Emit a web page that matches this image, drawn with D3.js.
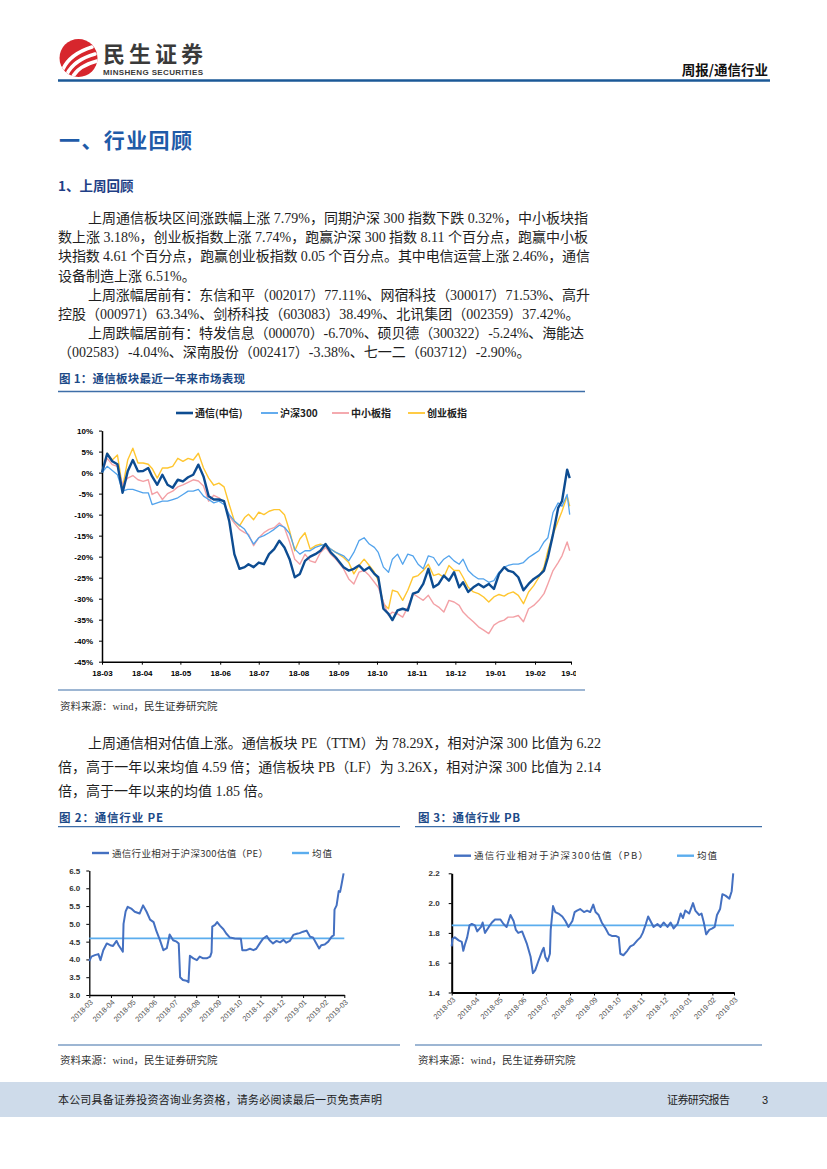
<!DOCTYPE html>
<html>
<head>
<meta charset="utf-8">
<script src="https://cdn.jsdelivr.net/npm/d3@7"></script>
<style>
  html, body { margin: 0; padding: 0; background: #fff; }
  svg { display: block; }
</style>
</head>
<body>
<svg id="page" width="827" height="1169"></svg>
<script>
// ── 数据 ─────────────────────────────────────────────
// 图1：通信板块最近一年来市场表现（%）
const perfDates = [
  "2018-03-01","2018-03-05","2018-03-09","2018-03-13","2018-03-17","2018-03-21","2018-03-25","2018-03-29",
  "2018-04-02","2018-04-06","2018-04-09","2018-04-13","2018-04-17","2018-04-21","2018-04-25","2018-04-29",
  "2018-05-03","2018-05-07","2018-05-11","2018-05-15","2018-05-19","2018-05-23","2018-05-27","2018-05-31",
  "2018-06-04","2018-06-08","2018-06-12","2018-06-16","2018-06-20","2018-06-23","2018-06-27",
  "2018-07-01","2018-07-05","2018-07-09","2018-07-13","2018-07-17","2018-07-21","2018-07-25","2018-07-29",
  "2018-08-02","2018-08-06","2018-08-10","2018-08-14","2018-08-18","2018-08-22","2018-08-26","2018-08-30",
  "2018-09-05","2018-09-09","2018-09-13","2018-09-17","2018-09-21","2018-09-25","2018-09-29",
  "2018-10-02","2018-10-06","2018-10-10","2018-10-13","2018-10-17","2018-10-21","2018-10-25","2018-10-29",
  "2018-11-02","2018-11-06","2018-11-10","2018-11-14","2018-11-18","2018-11-22","2018-11-26","2018-11-30",
  "2018-12-04","2018-12-07","2018-12-11","2018-12-15","2018-12-19","2018-12-23","2018-12-27","2018-12-31",
  "2019-01-04","2019-01-08","2019-01-11","2019-01-15","2019-01-19","2019-01-23","2019-01-27","2019-01-31",
  "2019-02-04","2019-02-08","2019-02-11","2019-02-15","2019-02-19","2019-02-22","2019-02-26","2019-02-28"
];
const tongxinVals = [
  0, 4.5, 2.7, 2.0, -4.8, 0.3, 3.0, 0.3, 0.4, 1.1, -0.9, -2.9, -0.5, -2.9, -3.6, -1.7,
  -2.1, -1.1, -0.5, 1.9, -0.9, -5.6, -6.4, -6.4, -6.8, -11.5, -19.4, -22.9, -22.5, -21.8, -22.5,
  -21.4, -21.8, -19.4, -18.2, -16.2, -17.8, -20.6, -24.9, -24.1, -21.0, -20.0, -19.4, -18.6, -17.0, -19.0, -20.2,
  -22.5, -23.3, -22.9, -22.1, -23.3, -22.5, -24.1, -24.9, -32.4, -33.6, -35.1, -32.8, -32.4, -32.8, -28.8,
  -28.4, -26.5, -22.9, -27.3, -26.5, -24.5, -25.7, -23.7, -27.3, -26.1, -28.4, -27.3, -26.5, -27.3, -26.5, -27.7,
  -24.1, -22.5, -23.3, -23.7, -24.9, -28.0, -26.5, -25.3, -24.5, -23.3, -20.2, -14.7, -8.4, -6.8, 0.7, -1.3
];
const hs300Vals = [
  0, 1.5, 0.5, -0.5, -4.4, -4.0, -4.0, -4.4, -4.8, -4.8, -7.6, -7.2, -6.8, -6.8, -6.4, -6.0,
  -5.2, -4.4, -4.4, -4.0, -5.6, -6.4, -7.2, -6.8, -7.6, -10.0, -11.5, -12.5, -13.5, -15.0, -17.0,
  -15.5, -15.0, -14.3, -13.5, -12.5, -13.0, -14.5, -18.2, -19.4, -18.6, -18.6, -17.8, -17.4, -17.0, -18.2, -19.0,
  -19.8, -21.0, -19.0, -16.2, -15.5, -17.0, -17.8, -19.0, -22.5, -23.7, -20.6, -19.4, -21.8, -19.4, -19.8,
  -21.8, -22.9, -19.8, -20.2, -22.1, -20.6, -19.8, -21.0, -21.8, -20.6, -23.3, -24.5, -25.3, -25.3, -26.1, -25.7,
  -23.7, -22.5, -22.1, -21.8, -21.8, -21.4, -20.2, -19.4, -18.6, -16.5, -15.5, -9.5, -7.2, -8.0, -5.2, -10.0
];
const zxbVals = [
  0, 3.4, 1.9, 1.5, -2.9, -1.3, -0.7, -1.7, -2.1, -1.7, -5.2, -4.6, -6.4, -5.0, -4.4, -3.4,
  -2.9, -2.3, -1.7, -2.0, -3.2, -6.8, -5.4, -6.0, -7.0, -10.3, -12.0, -13.5, -14.3, -14.7, -17.4,
  -15.5, -14.3, -13.5, -13.1, -12.0, -13.1, -16.5, -20.6, -21.8, -19.4, -21.0, -21.4, -19.0, -17.8, -19.4, -20.6,
  -22.9, -25.3, -26.5, -23.7, -23.3, -24.5, -26.1, -27.3, -30.8, -34.0, -33.2, -33.6, -34.4, -32.0, -28.8,
  -29.6, -30.4, -29.2, -31.2, -32.0, -33.2, -30.4, -30.8, -31.6, -33.2, -34.4, -35.5, -36.7, -37.5, -38.3, -36.3,
  -35.5, -35.1, -34.4, -34.4, -34.0, -35.5, -32.4, -31.6, -30.4, -28.8, -26.5, -23.3, -21.4, -19.8, -16.5, -18.6
];
const cybVals = [
  0, 4.6, 3.0, 4.2, -3.6, 3.0, 5.8, 2.3, 2.3, 2.0, 1.0, -1.3, 1.1, 1.1, 1.5, 3.4,
  2.7, 3.4, 3.0, 4.6, 1.1, -1.3, -3.0, -2.5, -3.4, -7.6, -11.5, -12.7, -10.7, -9.9, -11.2,
  -9.4, -10.0, -9.2, -8.8, -8.8, -10.0, -13.9, -18.6, -15.8, -14.3, -18.2, -17.4, -17.0, -17.4, -18.2, -19.0,
  -20.2, -21.4, -24.1, -22.1, -20.6, -22.1, -23.7, -25.7, -31.2, -32.4, -28.0, -28.4, -30.4, -28.0, -24.9,
  -24.5, -23.3, -21.8, -24.5, -24.1, -24.9, -22.1, -23.3, -23.3, -24.9, -27.3, -28.4, -28.8, -29.6, -30.8, -29.6,
  -29.0, -29.4, -28.8, -28.4, -29.2, -31.2, -28.4, -26.9, -24.9, -22.5, -18.6, -14.7, -11.5, -9.2, -5.6, -8.0
];
const perfNames = ["通信(中信)", "沪深300", "中小板指", "创业板指"];
const perfTicks = [-45, -40, -35, -30, -25, -20, -15, -10, -5, 0, 5, 10];

// 图2：通信行业相对于沪深300估值（PE）
const peDates = [
  "2018-03-01","2018-03-04","2018-03-09","2018-03-14","2018-03-17","2018-03-21","2018-03-26","2018-03-31",
  "2018-04-04","2018-04-09","2018-04-12","2018-04-16","2018-04-18","2018-04-19","2018-04-22","2018-04-25","2018-04-30",
  "2018-05-05","2018-05-12","2018-05-17","2018-05-22","2018-05-27","2018-06-01","2018-06-05","2018-06-10",
  "2018-06-15","2018-06-20","2018-06-24","2018-06-29","2018-07-04","2018-07-07","2018-07-09","2018-07-13",
  "2018-07-18","2018-07-21","2018-07-23","2018-07-28","2018-08-02","2018-08-06","2018-08-11","2018-08-16",
  "2018-08-21","2018-08-23","2018-08-24","2018-08-28","2018-08-31","2018-09-04","2018-09-09","2018-09-13",
  "2018-09-18","2018-09-25","2018-10-04","2018-10-06","2018-10-12","2018-10-17","2018-10-22","2018-10-26",
  "2018-10-31","2018-11-05","2018-11-10","2018-11-14","2018-11-19","2018-11-24","2018-11-29","2018-12-04",
  "2018-12-08","2018-12-13","2018-12-18","2018-12-23","2018-12-27","2019-01-01","2019-01-06","2019-01-11",
  "2019-01-15","2019-01-20","2019-01-24","2019-01-27","2019-02-01","2019-02-06","2019-02-11","2019-02-14",
  "2019-02-15","2019-02-18","2019-02-21","2019-02-23","2019-02-25","2019-02-28"
];
const peValues = [
  3.95, 4.08, 4.12, 4.15, 3.98, 4.26, 4.45, 4.40, 4.38, 4.52, 4.40, 4.28, 4.22, 5.00, 5.35, 5.48, 5.43,
  5.34, 5.29, 5.52, 5.34, 5.12, 5.05, 4.80, 4.55, 4.26, 4.32, 4.70, 4.54, 4.50, 4.45, 3.50, 3.42,
  3.40, 3.36, 4.10, 4.03, 3.98, 4.08, 4.03, 4.03, 4.08, 4.20, 4.92, 4.97, 5.05, 4.95, 4.85, 4.73,
  4.62, 4.59, 4.58, 4.26, 4.26, 4.30, 4.26, 4.30, 4.45, 4.59, 4.66, 4.54, 4.45, 4.52, 4.48, 4.55,
  4.47, 4.52, 4.69, 4.72, 4.74, 4.78, 4.81, 4.64, 4.62, 4.45, 4.31, 4.40, 4.42, 4.50, 4.64, 4.68,
  5.40, 5.52, 5.92, 5.90, 6.10, 6.42
];
const peMean = 4.59;
const peTicks = [3.0, 3.5, 4.0, 4.5, 5.0, 5.5, 6.0, 6.5];

// 图3：通信行业相对于沪深300估值（PB）
const pbDates = [
  "2018-03-01","2018-03-02","2018-03-05","2018-03-10","2018-03-14","2018-03-16","2018-03-18","2018-03-21","2018-03-24","2018-03-27",
  "2018-03-31","2018-04-03","2018-04-08","2018-04-10","2018-04-13","2018-04-18","2018-04-22","2018-04-26","2018-05-03","2018-05-07",
  "2018-05-11","2018-05-16","2018-05-20","2018-05-23","2018-05-26","2018-05-31","2018-06-03","2018-06-06","2018-06-11","2018-06-14",
  "2018-06-17","2018-06-21","2018-06-26","2018-06-28","2018-06-30","2018-07-03","2018-07-06","2018-07-07","2018-07-10","2018-07-13",
  "2018-07-17","2018-07-22","2018-07-26","2018-07-30","2018-08-04","2018-08-07","2018-08-10","2018-08-14","2018-08-19","2018-08-23",
  "2018-08-27","2018-08-31","2018-09-03","2018-09-07","2018-09-11","2018-09-16","2018-09-20","2018-09-24","2018-09-29","2018-10-03",
  "2018-10-05","2018-10-09","2018-10-14","2018-10-18","2018-10-22","2018-10-27","2018-10-31","2018-11-03","2018-11-07","2018-11-10",
  "2018-11-13","2018-11-17","2018-11-22","2018-11-26","2018-11-30","2018-12-05","2018-12-09","2018-12-13","2018-12-18","2018-12-22",
  "2018-12-25","2018-12-28","2019-01-02","2019-01-07","2019-01-10","2019-01-15","2019-01-18","2019-01-21","2019-01-24","2019-01-28",
  "2019-02-01","2019-02-04","2019-02-07","2019-02-11","2019-02-14","2019-02-18","2019-02-23","2019-02-26","2019-02-28"
];
const pbValues = [
  1.71, 1.76, 1.77, 1.75, 1.74, 1.68, 1.72, 1.77, 1.85, 1.86,
  1.85, 1.81, 1.84, 1.87, 1.80, 1.84, 1.87, 1.89, 1.89, 1.86,
  1.84, 1.92, 1.88, 1.82, 1.80, 1.81, 1.77, 1.73, 1.64, 1.53,
  1.55, 1.61, 1.68, 1.70, 1.64, 1.61, 1.66, 1.82, 1.98, 1.94,
  1.93, 1.91, 1.88, 1.84, 1.88, 1.94, 1.95, 1.96, 1.94, 1.95,
  1.94, 1.99, 1.94, 1.92, 1.87, 1.83, 1.79, 1.78, 1.78, 1.77,
  1.66, 1.65, 1.68, 1.71, 1.72, 1.75, 1.77, 1.80, 1.86, 1.91,
  1.88, 1.84, 1.86, 1.84, 1.87, 1.84, 1.87, 1.83, 1.86, 1.93,
  1.90, 1.95, 1.93, 2.00, 1.95, 1.92, 1.93, 1.87, 1.79, 1.82,
  1.83, 1.84, 1.92, 1.96, 2.06, 2.05, 2.03, 2.08, 2.20
];
const pbMean = 1.85;
const pbTicks = [1.4, 1.6, 1.8, 2.0, 2.2];

// ── 공통 ─────────────────────────────────────────────
const SERIF = "'Liberation Serif','Noto Sans CJK SC',serif";
const CJK   = "'Noto Sans CJK SC',sans-serif";
const SANS  = "'Liberation Sans','Noto Sans CJK SC',sans-serif";
const parse = d3.timeParse("%Y-%m-%d");
const t0 = parse("2018-03-01"), t1 = parse("2019-03-01");

const svg = d3.select("#page");
const defs = svg.append("defs");

function txt(g, s, x, y, o = {}) {
  const el = g.append("text")
    .attr("x", x).attr("y", y)
    .attr("font-family", o.family || SERIF)
    .attr("font-size", o.size || 14)
    .attr("font-weight", o.weight || "normal")
    .attr("fill", o.fill || "#222")
    .attr("text-anchor", o.anchor || "start")
    .text(s);
  if (o.w) el.attr("textLength", o.w).attr("lengthAdjust", "spacing");
  return el;
}
function hline(x1, x2, y, color, w) {
  svg.append("line").attr("x1", x1).attr("x2", x2).attr("y1", y).attr("y2", y)
    .attr("stroke", color).attr("stroke-width", w);
}

// ── 헤더 ─────────────────────────────────────────────
defs.append("clipPath").attr("id", "logo-clip")
  .append("circle").attr("cx", 78.5).attr("cy", 58).attr("r", 19);
const logo = svg.append("g");
logo.append("circle").attr("cx", 78.5).attr("cy", 58).attr("r", 19).attr("fill", "#d7262d");
const sw = logo.append("g").attr("clip-path", "url(#logo-clip)")
  .attr("fill", "none").attr("stroke", "#fff").attr("stroke-linecap", "round");
sw.append("path").attr("d", "M63,69 Q70,54 92,47").attr("stroke-width", 3.6);
sw.append("path").attr("d", "M67,74 Q74,60 95,54").attr("stroke-width", 3.6);
sw.append("path").attr("d", "M72,78 Q78,66 97,61").attr("stroke-width", 3.6);

txt(svg, "民生证券", 103, 62, { family: CJK, size: 22, weight: "bold", fill: "#3a3a3a", w: 100 });
txt(svg, "MINSHENG SECURITIES", 103, 74.5, { family: SANS, size: 8, weight: "bold", fill: "#3a3a3a", w: 100 });
txt(svg, "周报/通信行业", 768, 75, { family: CJK, size: 13.5, weight: "bold", fill: "#111", anchor: "end" });
hline(58, 770, 80.5, "#1b5897", 2.6);

// ── 본문 ─────────────────────────────────────────────
txt(svg, "一、行业回顾", 59, 148, { family: CJK, size: 21, weight: "bold", fill: "#1f5ba8", w: 133 });
txt(svg, "1、上周回顾", 58, 191, { family: CJK, size: 13.5, weight: "bold", fill: "#1f3f86" });

const para1 = [
  ["上周通信板块区间涨跌幅上涨 7.79%，同期沪深 300 指数下跌 0.32%，中小板块指", 88, 500],
  ["数上涨 3.18%，创业板指数上涨 7.74%，跑赢沪深 300 指数 8.11 个百分点，跑赢中小板", 58, 530],
  ["块指数 4.61 个百分点，跑赢创业板指数 0.05 个百分点。其中电信运营上涨 2.46%，通信", 58, 532],
  ["设备制造上涨 6.51%。", 58, 0],
  ["上周涨幅居前有：东信和平（002017）77.11%、网宿科技（300017）71.53%、高升", 88, 502],
  ["控股（000971）63.34%、剑桥科技（603083）38.49%、北讯集团（002359）37.42%。", 58, 0],
  ["上周跌幅居前有：特发信息（000070）-6.70%、硕贝德（300322）-5.24%、海能达", 88, 496],
  ["（002583）-4.04%、深南股份（002417）-3.38%、七一二（603712）-2.90%。", 58, 0]
];
para1.forEach(([s, x, w], i) => txt(svg, s, x, 223 + i * 19.2, { w: w || null, fill: "#1e1e1e" }));

const para2 = [
  ["上周通信相对估值上涨。通信板块 PE（TTM）为 78.29X，相对沪深 300 比值为 6.22", 88, 513],
  ["倍，高于一年以来均值 4.59 倍；通信板块 PB（LF）为 3.26X，相对沪深 300 比值为 2.14", 58, 543],
  ["倍，高于一年以来的均值 1.85 倍。", 58, 0]
];
para2.forEach(([s, x, w], i) => txt(svg, s, x, 747.5 + i * 24, { w: w || null, fill: "#1e1e1e" }));

// ── 그림 제목 / 구분선 / 출처 ───────────────────────────
const FIG = "#1c4a88", RULE = "#3d6ea8";
txt(svg, "图 1：通信板块最近一年来市场表现", 59, 383, { family: CJK, size: 11.5, weight: "bold", fill: FIG, w: 186 });
hline(58, 585, 391.5, RULE, 1.3);
hline(58, 585, 690, RULE, 1.1);
txt(svg, "资料来源：wind，民生证券研究院", 60, 710, { size: 10.5, fill: "#333" });

txt(svg, "图 2：通信行业 PE", 59, 822, { family: CJK, size: 11.5, weight: "bold", fill: FIG, w: 104 });
txt(svg, "图 3：通信行业 PB", 418, 822, { family: CJK, size: 11.5, weight: "bold", fill: FIG, w: 102 });
hline(58, 400, 826.7, RULE, 1.3);
hline(415, 762, 826.7, RULE, 1.3);
hline(58, 400, 1045, RULE, 1.1);
hline(415, 762, 1045, RULE, 1.1);
txt(svg, "资料来源：wind，民生证券研究院", 60, 1064, { size: 10.5, fill: "#333" });
txt(svg, "资料来源：wind，民生证券研究院", 418, 1064, { size: 10.5, fill: "#333" });

// ── 축 스타일 ────────────────────────────────────────
function styleAxis(g, o) {
  g.attr("font-family", SANS).attr("font-size", o.size).attr("font-weight", o.weight || "bold");
  g.select(".domain").attr("stroke", "#000").attr("stroke-width", o.sw || 1.5);
  g.selectAll(".tick line").attr("stroke", "#000").attr("stroke-width", 1);
  g.selectAll(".tick text").attr("fill", o.fill || "#000");
}

// ── 그림 1 ──────────────────────────────────────────
const c1 = svg.append("g");
const x1 = d3.scaleTime().domain([t0, t1]).range([102, 571]);
const y1 = d3.scaleLinear().domain([-45, 10]).range([661.7, 430.6]);

// 19-03 라벨이 그림 오른쪽 끝에서 잘리도록
defs.append("clipPath").attr("id", "c1-clip")
  .append("rect").attr("x", 0).attr("y", 380).attr("width", 576).attr("height", 310);

c1.append("g").attr("transform", "translate(102,0)")
  .call(d3.axisLeft(y1).tickValues(perfTicks).tickFormat(d => d + "%")
    .tickSize(3).tickSizeOuter(0).tickPadding(6))
  .call(g => styleAxis(g, { size: 8 }));

c1.append("g").attr("clip-path", "url(#c1-clip)")
  .append("g").attr("transform", "translate(0,661.7)")
  .call(d3.axisBottom(x1).ticks(d3.timeMonth.every(1)).tickFormat(d3.timeFormat("%y-%m"))
    .tickSize(3).tickSizeOuter(0).tickPadding(6))
  .call(g => styleAxis(g, { size: 8 }));

const perfD = perfDates.map(parse);
const perfSeries = [
  { name: perfNames[0], vals: tongxinVals, color: "#0d4c91", w: 2.4 },
  { name: perfNames[1], vals: hs300Vals,   color: "#52a3ec", w: 1.3 },
  { name: perfNames[2], vals: zxbVals,     color: "#f3a1a6", w: 1.4 },
  { name: perfNames[3], vals: cybVals,     color: "#ffc630", w: 1.4 }
];
const line1 = d3.line().x((d, i) => x1(perfD[i])).y(d => y1(d));

// 아래부터: 창업판 → 중소판 → 호심300 → 통신
[3, 2, 1, 0].forEach(k => {
  const s = perfSeries[k];
  c1.append("path").datum(s.vals)
    .attr("d", line1)
    .attr("fill", "none")
    .attr("stroke", s.color)
    .attr("stroke-width", s.w)
    .attr("stroke-linejoin", "round");
});

// 범례
const legX = [176, 261, 332, 408];
perfSeries.forEach((s, i) => {
  c1.append("line").attr("x1", legX[i]).attr("x2", legX[i] + 17)
    .attr("y1", 413).attr("y2", 413)
    .attr("stroke", s.color).attr("stroke-width", i === 0 ? 2.6 : 1.8);
  txt(c1, s.name, legX[i] + 19, 416.5, { family: CJK, size: 10, weight: "bold", fill: "#222" });
});

// ── 그림 2/3 공통 ─────────────────────────────────────
function valuationChart(o) {
  const g = svg.append("g");
  const x = d3.scaleTime().domain([t0, t1]).range([o.left, o.right]);
  const y = d3.scaleLinear().domain(o.domain).range([o.bottom, o.top]);

  g.append("g").attr("transform", `translate(${o.left},0)`)
    .call(d3.axisLeft(y).tickValues(o.ticks).tickFormat(d3.format(".1f"))
      .tickSize(3).tickSizeOuter(0).tickPadding(o.pad))
    .call(a => styleAxis(a, { size: 8, fill: "#333", sw: o.axisW }));

  g.append("g").attr("transform", `translate(0,${o.bottom})`)
    .call(d3.axisBottom(x).ticks(d3.timeMonth.every(1)).tickFormat(d3.timeFormat("%Y-%m"))
      .tickSize(3).tickSizeOuter(0))
    .call(a => {
      styleAxis(a, { size: 7.5, weight: "normal", fill: "#555", sw: o.axisW });
      a.selectAll(".tick text")
        .attr("x", 0).attr("y", 0).attr("dy", "0.32em")
        .attr("text-anchor", "end")
        .attr("transform", "translate(2,6) rotate(-45)");
    });

  // 평균선
  g.append("line")
    .attr("x1", x(t0)).attr("x2", x(t1))
    .attr("y1", y(o.mean)).attr("y2", y(o.mean))
    .attr("stroke", "#5badee").attr("stroke-width", 1.8);

  const dates = o.dates.map(parse);
  g.append("path").datum(o.values)
    .attr("d", d3.line().x((d, i) => x(dates[i])).y(d => y(d)))
    .attr("fill", "none").attr("stroke", "#4470c1")
    .attr("stroke-width", 2).attr("stroke-linejoin", "round");

  // 범례
  const L = o.legend;
  g.append("line").attr("x1", L.x1).attr("x2", L.x1 + 17).attr("y1", L.y).attr("y2", L.y)
    .attr("stroke", "#4470c1").attr("stroke-width", 2.4);
  txt(g, L.label, L.x1 + 20, L.y + 3.5, { family: CJK, size: 9.5, fill: "#333", w: L.w });
  g.append("line").attr("x1", L.x2).attr("x2", L.x2 + 17).attr("y1", L.y).attr("y2", L.y)
    .attr("stroke", "#5badee").attr("stroke-width", 2.4);
  txt(g, "均值", L.x2 + 20, L.y + 3.5, { family: CJK, size: 9.5, fill: "#333", w: 20 });
}

valuationChart({
  left: 89.3, right: 344.3, top: 870.5, bottom: 995, pad: 6, axisW: 1.3,
  domain: [3, 6.5], ticks: peTicks, dates: peDates, values: peValues, mean: peMean,
  legend: { x1: 92, x2: 292, y: 853, label: "通信行业相对于沪深300估值（PE）", w: 156 }
});

valuationChart({
  left: 451.7, right: 734, top: 873.3, bottom: 992.5, pad: 9, axisW: 2,
  domain: [1.4, 2.2], ticks: pbTicks, dates: pbDates, values: pbValues, mean: pbMean,
  legend: { x1: 454, x2: 677, y: 855.7, label: "通信行业相对于沪深300估值（PB）", w: 174 }
});

// ── 푸터 ─────────────────────────────────────────────
svg.append("rect").attr("x", 0).attr("y", 1082).attr("width", 827).attr("height", 35).attr("fill", "#cedbea");
txt(svg, "本公司具备证券投资咨询业务资格，请务必阅读最后一页免责声明", 58, 1104, { family: CJK, size: 11, fill: "#222", w: 324 });
txt(svg, "证券研究报告", 667, 1104, { family: CJK, size: 11, fill: "#222", w: 63 });
txt(svg, "3", 762, 1104, { family: SANS, size: 11, fill: "#222" });
</script>
</body>
</html>
